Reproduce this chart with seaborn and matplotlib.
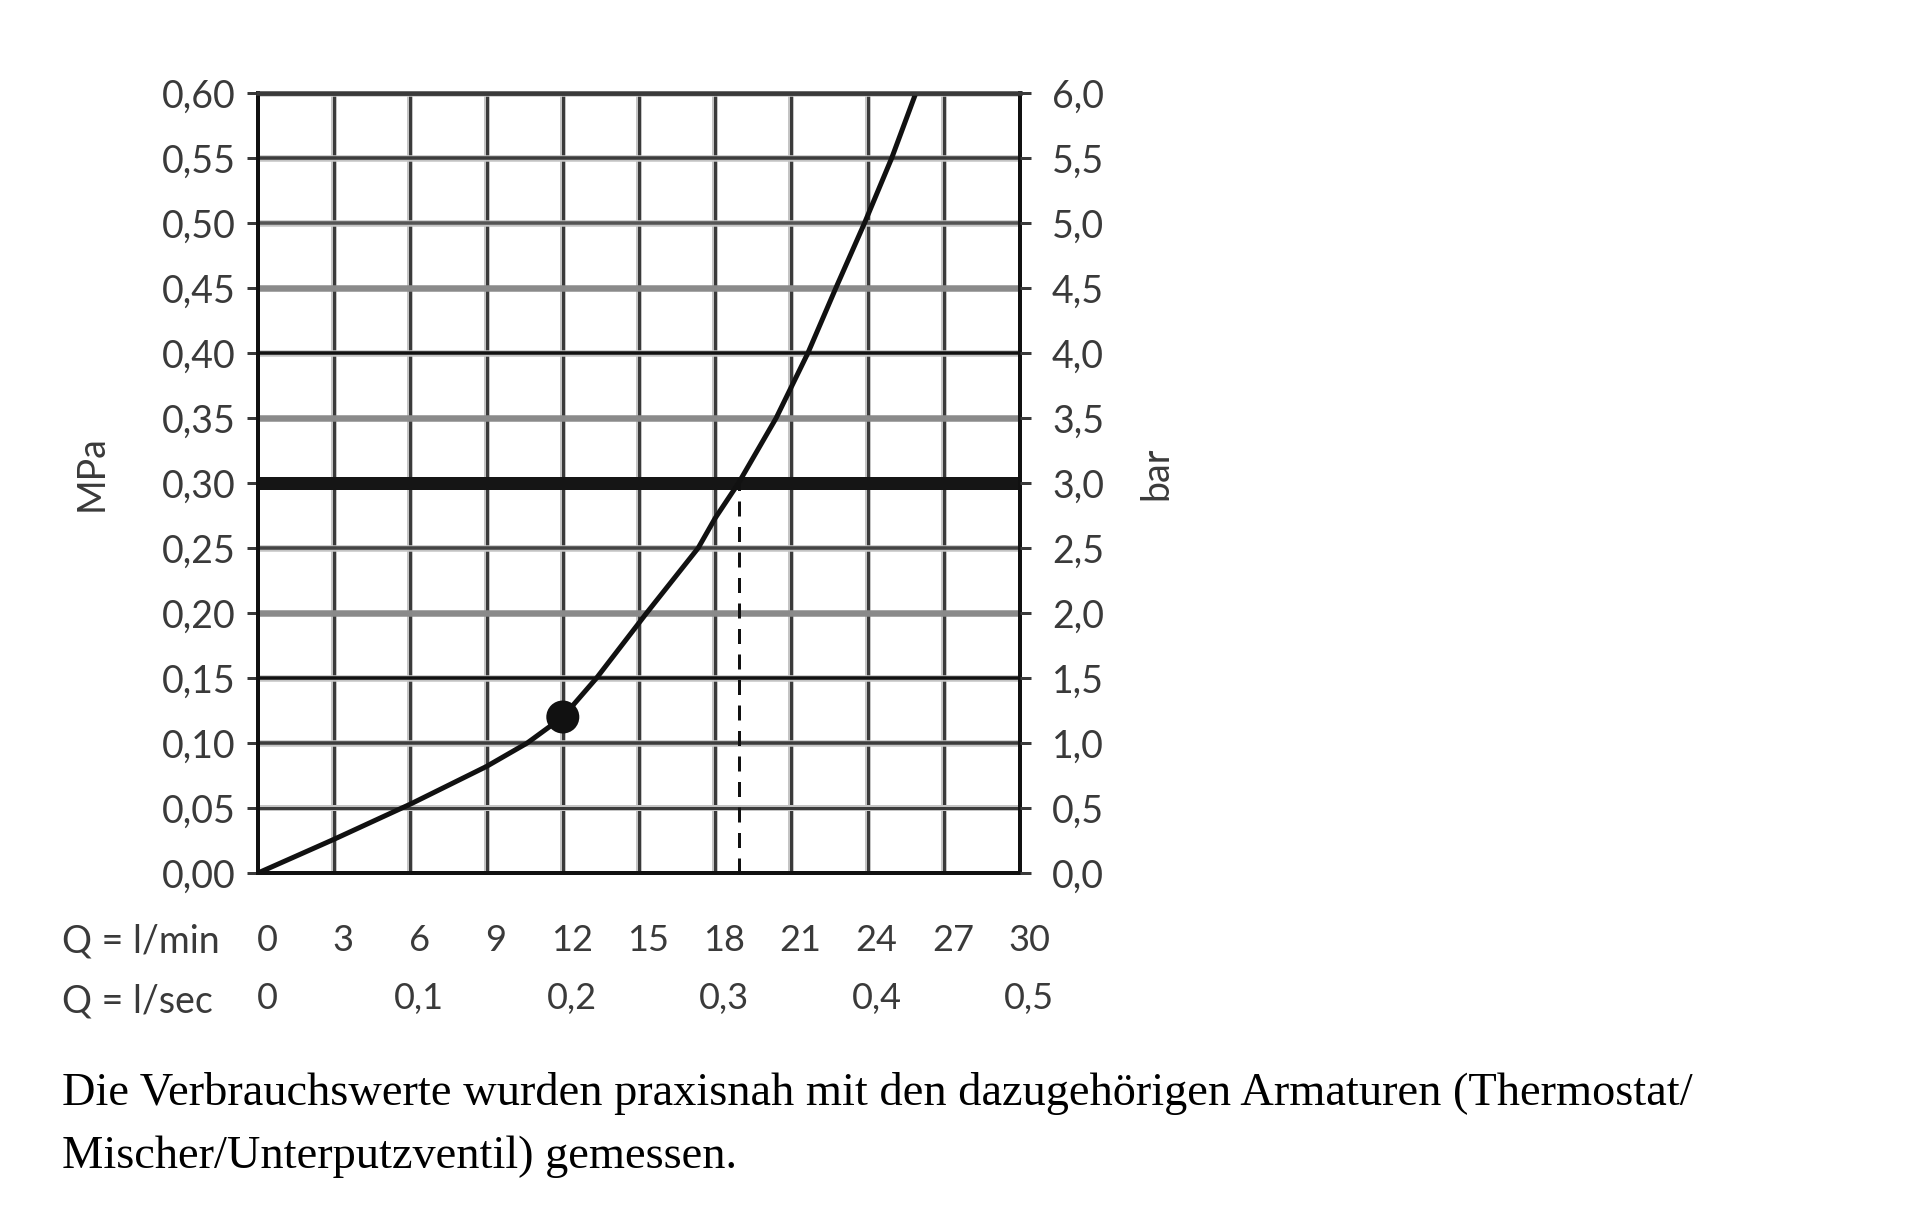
import numpy as np
import pandas as pd
import seaborn as sns
import matplotlib.pyplot as plt
from matplotlib.transforms import ScaledTranslation

# Druckverlust-Kurve
flow_lmin = [0, 3, 6, 9, 10.6, 12, 13.33, 15.3, 17.33, 18, 18.92, 20.4, 21.65, 22.75, 23.88, 24.95, 25.9]
pressure_mpa = [0, 0.026, 0.053, 0.082, 0.10, 0.12, 0.15, 0.20, 0.25, 0.273, 0.30,
                0.35, 0.40, 0.45, 0.50, 0.55, 0.60]

# Betriebspunkt und Referenzlinie
point_flow = [12]
point_pressure = [0.12]
ref_flow = [18.92, 18.92]
ref_pressure = [0.0, 0.30]

mpa_ticks = [0.00, 0.05, 0.10, 0.15, 0.20, 0.25, 0.30, 0.35, 0.40, 0.45, 0.50, 0.55, 0.60]
mpa_labels = ["0,00", "0,05", "0,10", "0,15", "0,20", "0,25", "0,30",
              "0,35", "0,40", "0,45", "0,50", "0,55", "0,60"]
bar_ticks = [0.0, 0.5, 1.0, 1.5, 2.0, 2.5, 3.0, 3.5, 4.0, 4.5, 5.0, 5.5, 6.0]
bar_labels = ["0,0", "0,5", "1,0", "1,5", "2,0", "2,5", "3,0",
              "3,5", "4,0", "4,5", "5,0", "5,5", "6,0"]
lmin_ticks = [0, 3, 6, 9, 12, 15, 18, 21, 24, 27, 30]
lmin_labels = ["0", "3", "6", "9", "12", "15", "18", "21", "24", "27", "30"]
lsec_ticks = [0, 0.1, 0.2, 0.3, 0.4, 0.5]
lsec_labels = ["0", "0,1", "0,2", "0,3", "0,4", "0,5"]

caption = ("Die Verbrauchswerte wurden praxisnah mit den dazugehörigen Armaturen (Thermostat/\n"
           "Mischer/Unterputzventil) gemessen.")

# Linienstil der horizontalen Gitterlinien (Farbe, Breite in px)
hline_style = {
    0.05: ("#3c3c3c", 3.0), 0.10: ("#3c3c3c", 3.5), 0.15: ("#111111", 3.5),
    0.20: ("#8a8a8a", 6.5), 0.25: ("#444444", 3.5), 0.30: ("#151515", 13),
    0.35: ("#8a8a8a", 6.5), 0.40: ("#111111", 3.5), 0.45: ("#8a8a8a", 6.5),
    0.50: ("#555555", 3.5), 0.55: ("#3c3c3c", 3.5), 0.60: ("#3a3a3a", 4.5),
}

sns.set_style("white")
plt.rcParams['font.family'] = ['Lato', 'DejaVu Sans']

px = 0.72  # px -> pt bei dpi 100
txt_color = "#3a3a3a"

fig = plt.figure(figsize=(19.2, 12.24), dpi=100)
ax = fig.add_axes([258 / 1920, 1 - 873 / 1224, 762 / 1920, 780 / 1224])

# vertikale Gitterlinien
for xv in lmin_ticks[1:-1]:
    ax.axvline(xv, color="#c4c4c4", lw=6 * px, zorder=1)
    ax.axvline(xv, color="#3a3a3a", lw=3 * px, zorder=1.1)

# horizontale Gitterlinien
for yv, (col, w) in hline_style.items():
    if w < 5:
        ax.axhline(yv, color="#c4c4c4", lw=(w + 3) * px, zorder=1.2)
    ax.axhline(yv, color=col, lw=w * px, zorder=1.3)

df = pd.DataFrame({"flow": flow_lmin, "pressure": pressure_mpa})
sns.lineplot(data=df, x="flow", y="pressure", ax=ax, color="#111111",
             lw=5 * px, zorder=5, sort=False)
ax.plot(ref_flow, ref_pressure, color="#111111", lw=3 * px,
        dashes=(5, 3.5), zorder=4)
sns.scatterplot(x=point_flow, y=point_pressure, ax=ax, color="#111111",
                s=(33 * px) ** 2, edgecolor="none", zorder=6)

ax.set_xlim(0, 30)
ax.set_ylim(0, 0.60)
ax.set_xlabel("")
ax.set_ylabel("")

for side in ["left", "right", "bottom"]:
    ax.spines[side].set_color("#111111")
    ax.spines[side].set_linewidth(4 * px)
ax.spines["top"].set_color("#3a3a3a")
ax.spines["top"].set_linewidth(4.5 * px)
for sp in ax.spines.values():
    sp.set_zorder(7)

ax.set_yticks(mpa_ticks)
ax.set_yticklabels(mpa_labels)
ax.set_xticks(lmin_ticks)
ax.set_xticklabels(lmin_labels)
ax.tick_params(axis="y", direction="out", length=8, width=3 * px, color="#3a3a3a",
               pad=8, labelsize=27, labelcolor=txt_color)
ax.tick_params(axis="x", direction="out", length=8, width=3 * px, color="#3a3a3a",
               pad=29, labelsize=26, labelcolor=txt_color)
shift = ScaledTranslation(9 / 100, 0, fig.dpi_scale_trans)
for lbl in ax.get_xticklabels():
    lbl.set_transform(lbl.get_transform() + shift)

# rechte Achse in bar
ax2 = ax.twinx()
ax2.set_ylim(0, 6)
ax2.set_yticks(bar_ticks)
ax2.set_yticklabels(bar_labels)
ax2.tick_params(axis="y", direction="out", length=8, width=3 * px, color="#3a3a3a",
                pad=15, labelsize=27, labelcolor=txt_color)
for sp in ax2.spines.values():
    sp.set_visible(False)

# zweite Zeile: l/sec
sec = ax.secondary_xaxis(-0.14, functions=(lambda q: q / 60, lambda s: s * 60))
sec.set_xticks(lsec_ticks)
sec.set_xticklabels(lsec_labels)
sec.tick_params(axis="x", length=0, pad=0, labelsize=26, labelcolor=txt_color)
sec.spines["bottom"].set_visible(False)
for lbl in sec.get_xticklabels():
    lbl.set_transform(lbl.get_transform() + shift)

fig.text(62 / 1920, 1 - 941 / 1224, "Q = l/min", fontsize=27, color=txt_color,
         ha="left", va="center")
fig.text(62 / 1920, 1 - 1002 / 1224, "Q = l/sec", fontsize=27, color=txt_color,
         ha="left", va="center")
fig.text(92 / 1920, 1 - 473 / 1224, "MPa", fontsize=27, color=txt_color,
         rotation=90, ha="center", va="center")
fig.text(1156 / 1920, 1 - 473 / 1224, "bar", fontsize=27, color=txt_color,
         rotation=90, ha="center", va="center")

fig.text(62 / 1920, 1 - 1125 / 1224, caption, fontsize=33.4, color="black",
         family=["Liberation Serif", "DejaVu Serif"], ha="left", va="center",
         linespacing=1.65)

fig.savefig("out.png", dpi=100, facecolor="white")
